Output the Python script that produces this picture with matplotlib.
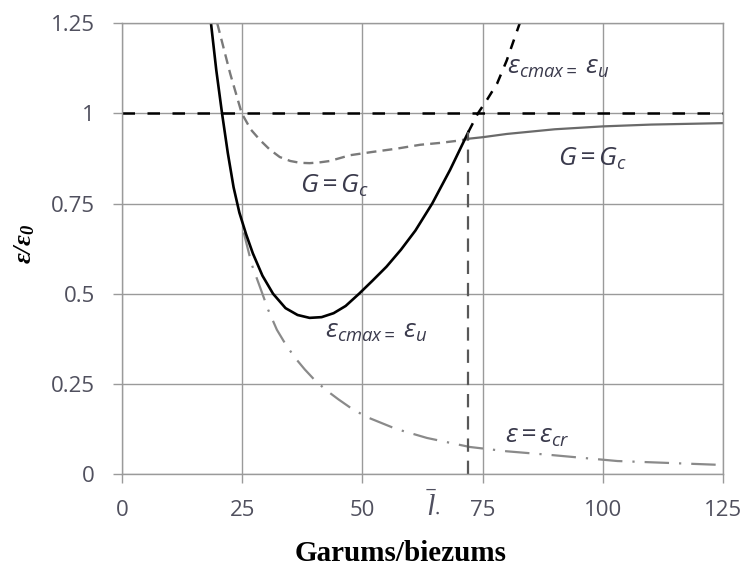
import matplotlib
matplotlib.use("Agg")
import matplotlib.pyplot as plt

plt.rcParams['mathtext.fontset'] = 'custom'
plt.rcParams['mathtext.sf'] = 'Open Sans:italic'
plt.rcParams['mathtext.it'] = 'Liberation Serif:italic'
plt.rcParams['mathtext.bf'] = 'Liberation Serif:italic:bold'
plt.rcParams['mathtext.rm'] = 'Liberation Serif'

# --- data ---
# epsilon_cmax = epsilon_u (solid black part)
x_cmax = [18.5, 19.6, 20.8, 22.0, 23.2, 24.4, 25.8, 27.2, 29.2, 31.4, 34, 36.5, 39, 41.5,
          44, 46.5, 49.3, 52, 55, 58, 61, 64.5, 68.2, 72]
y_cmax = [1.25, 1.12, 1.0, 0.89, 0.795, 0.725, 0.665, 0.612, 0.55, 0.5, 0.46, 0.441, 0.433,
          0.435, 0.446, 0.466, 0.5, 0.535, 0.575, 0.622, 0.675, 0.75, 0.843, 0.948]
# epsilon_cmax = epsilon_u (dashed continuation)
x_cmax2 = [72, 74, 76, 78, 80, 82.7]
y_cmax2 = [0.948, 1.0, 1.04, 1.083, 1.147, 1.25]

# G = Gc, dashed gray part
x_gc = [19.8, 22.5, 24.9, 26.8, 28.7, 30.7, 32.8, 35, 37, 39, 41, 43.2, 47.4, 52, 57, 62,
        66, 70.3, 72.2]
y_gc = [1.25, 1.11, 1.0, 0.955, 0.926, 0.9, 0.879, 0.868, 0.863, 0.862, 0.864, 0.868,
        0.884, 0.893, 0.902, 0.913, 0.918, 0.925, 0.93]
# G = Gc, solid gray part
x_gc2 = [72.2, 75, 80, 90, 100, 110, 125]
y_gc2 = [0.93, 0.934, 0.943, 0.956, 0.964, 0.969, 0.973]

# epsilon = epsilon_cr (dash-dot)
x_cr = [25.3, 27, 28.7, 30.4, 32.2, 34, 36, 38, 40.1, 42.5, 45, 47.8, 50.9, 57, 63.4, 72.3,
        80, 89, 103, 115, 125]
y_cr = [0.67, 0.58, 0.518, 0.455, 0.40, 0.36, 0.322, 0.29, 0.26, 0.232, 0.207, 0.181, 0.158,
        0.125, 0.10, 0.075, 0.063, 0.053, 0.036, 0.03, 0.025]

l_star = 72
y_limit = 1.0

x_ticks = [0, 25, 50, 75, 100, 125]
y_ticks = [0, 0.25, 0.5, 0.75, 1, 1.25]
y_tick_labels = ['0', '0.25', '0.5', '0.75', '1', '1.25']

fig = plt.figure(figsize=(7.44, 5.67), dpi=100)
ax = fig.add_axes([0.164, 0.164, 0.808, 0.795])

grid_col = '#9a9a9a'
ax.set_xlim(0, 125)
ax.set_ylim(0, 1.25)
ax.set_xticks(x_ticks)
ax.set_yticks(y_ticks)
ax.set_yticklabels(y_tick_labels)
ax.grid(True, color=grid_col, lw=1.0)
ax.set_axisbelow(True)
for s in ax.spines.values():
    s.set_color(grid_col)
    s.set_linewidth(1.0)
ax.tick_params(direction='out', length=6.5, width=1.0, color=grid_col,
               labelsize=16, labelcolor='#50505e')
ax.tick_params(axis='x', pad=12)
ax.tick_params(axis='y', pad=13)
for lab in ax.get_xticklabels() + ax.get_yticklabels():
    lab.set_fontfamily('Open Sans')

# horizontal limit line
ax.axhline(y_limit, color='black', lw=1.8, dashes=(5, 5))

# curves
ax.plot(x_cr, y_cr, color='#8a8a8a', lw=1.6, dashes=(11, 4.5, 1, 4.5))
ax.plot(x_gc, y_gc, color='#7a7a7a', lw=1.7, dashes=(4.2, 2.6))
ax.plot(x_gc2, y_gc2, color='#6a6a6a', lw=1.6)
ax.plot(x_cmax, y_cmax, color='black', lw=1.9)
ax.plot(x_cmax2, y_cmax2, color='black', lw=1.8, dashes=(4, 3.5))
ax.plot([l_star, l_star], [0, y_cmax[-1]], color='#585858', lw=1.6, dashes=(6, 4))

txt_col = '#3a3a4c'
lab_gc = r'$\mathsf{G{=}G_c}$'
lab_cmax = r'$\mathsf{\varepsilon_{cmax=}\ \varepsilon_u}$'
lab_cr = r'$\mathsf{\varepsilon{=}\varepsilon_{cr}}$'
ax.text(37.0, 0.779, lab_gc, fontsize=19, color=txt_col, ha='left', va='baseline')
ax.text(90.6, 0.856, lab_gc, fontsize=19, color=txt_col, ha='left', va='baseline')
ax.text(80.0, 1.111, lab_cmax, fontsize=19, color=txt_col, ha='left', va='baseline')
ax.text(42.2, 0.377, lab_cmax, fontsize=19, color=txt_col, ha='left', va='baseline')
ax.text(79.6, 0.086, lab_cr, fontsize=19, color=txt_col, ha='left', va='baseline')
ax.text(63.3, -0.083, r'$\bar{l}_{\bullet}$', fontsize=22, color='#505060', ha='left',
        va='center', clip_on=False)

ax.set_xlabel('Garums/biezums', fontsize=21, fontweight='bold', family='Liberation Serif')
ax.xaxis.set_label_coords(0.464, -0.177)
ax.xaxis.label.set_va('center')
ax.set_ylabel(r'$\mathbf{\varepsilon/\varepsilon_0}$', fontsize=19)
ax.yaxis.set_label_coords(-0.163, 0.51)
ax.yaxis.label.set_va('center')

fig.savefig('out.png', dpi=100, facecolor='white')
